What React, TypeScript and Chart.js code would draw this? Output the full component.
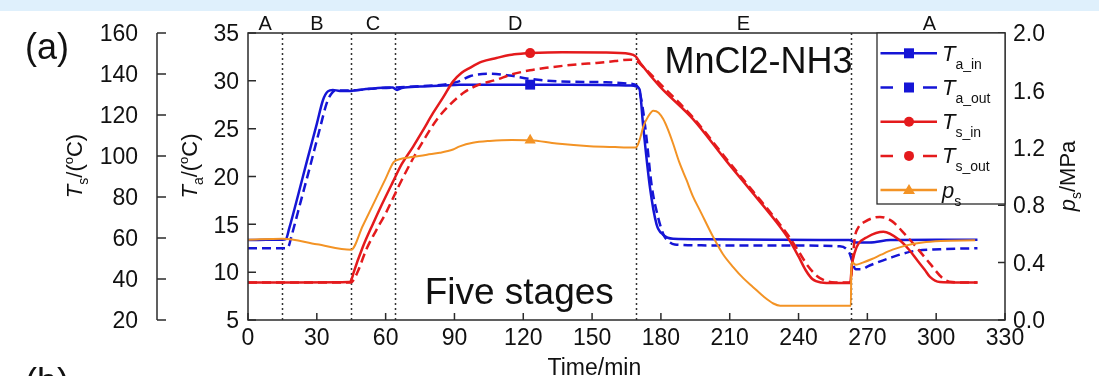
import { useEffect, useRef } from 'react';
import { Chart, registerables } from 'chart.js';

Chart.register(...registerables);

const FONT = '"Liberation Sans", Arial, Helvetica, sans-serif';
const INK = '#2b2b2b';
const BLUE = '#1515d6';
const RED = '#e41a1c';
const ORANGE = '#f39325';

// ---- Time axis ----
const xTicks = [0, 30, 60, 90, 120, 150, 180, 210, 240, 270, 300, 330];
const taTicks = [5, 10, 15, 20, 25, 30, 35];
const tsTicks = [20, 40, 60, 80, 100, 120, 140, 160];
const psTicks = [0, 0.4, 0.8, 1.2, 1.6, 2.0];

// ---- Stage boundaries (min) and labels ----
const stageBounds = [15, 45, 64, 169, 263];
const stageLabels = ['A', 'B', 'C', 'D', 'E', 'A'];
const stageCenters = [7.5, 30, 54.5, 116.5, 216, 297];

// time at which the series markers sit
const markerTime = 123;

// ---- T_a_in (°C) ----
const taInTime = [0, 8, 15, 16.5, 18, 22, 26, 30, 32.7, 34.8, 37, 40, 45, 50, 55, 60, 63, 65, 67, 75, 85, 92, 105, 123, 140, 160, 167, 169.4, 170.7, 172.3, 175.2, 178.1, 181, 183, 185.3, 200, 230, 262, 265, 271, 280, 300, 318];
const taInVals = [13.35, 13.4, 13.4, 13.45, 14.6, 18.2, 21.9, 25.5, 28.0, 28.9, 29.05, 28.95, 28.95, 29.1, 29.2, 29.3, 29.3, 29.05, 29.25, 29.4, 29.5, 29.6, 29.6, 29.6, 29.6, 29.55, 29.5, 29.4, 29.1, 25.2, 18.9, 15.0, 13.9, 13.6, 13.5, 13.45, 13.4, 13.35, 13.1, 13.1, 13.35, 13.4, 13.4];

// ---- T_a_out (°C) ----
const taOutTime = [0, 16.5, 17.5, 19, 23, 27, 31, 34.5, 36.5, 38, 45, 55, 64, 75, 85, 92, 97, 105, 114, 123, 134.5, 156, 166.5, 169.5, 171.5, 173.5, 176, 178.5, 181, 183, 186, 200, 230, 258, 262, 265, 267, 271, 280, 290, 301.6, 318];
const taOutVals = [12.5, 12.5, 12.6, 13.8, 17.4, 21.0, 24.7, 27.8, 28.7, 29.0, 29.0, 29.2, 29.3, 29.45, 29.6, 29.95, 30.5, 30.75, 30.55, 30.2, 29.95, 29.85, 29.7, 29.5, 28.0, 24.5, 19.0, 16.0, 14.0, 13.3, 12.9, 12.8, 12.8, 12.7, 12.1, 10.3, 10.3, 10.7, 11.5, 12.2, 12.4, 12.5];

// ---- T_s_in (°C) ----
const tsInTime = [0, 20, 44, 44.5, 45.5, 46, 50, 54.5, 58, 63, 67, 72, 76, 80.7, 85, 89.4, 93, 96.7, 102, 108.3, 114, 120, 123, 137, 155, 166.5, 169, 171, 179.5, 194, 208.6, 220, 232, 236, 240, 243, 246, 250, 255, 262.5, 263.3, 264.5, 266, 270, 277, 284, 288, 291.5, 295, 297.3, 301.6, 310, 318];
const tsInVals = [38.3, 38.3, 38.5, 38.6, 41, 43, 55.5, 67, 75.5, 87, 96, 104.6, 112, 121, 128.5, 136.4, 140.5, 143, 146, 147.8, 149.3, 150, 150.2, 150.6, 150.5, 149.8, 148.6, 145.4, 134, 118, 97.5, 82, 65.4, 59, 51, 44.5, 40, 38.3, 38, 38, 47, 53, 57, 60.5, 63, 59, 54.5, 49.5, 44.5, 41, 38.5, 38.3, 38.3];

// ---- T_s_out (°C) ----
const tsOutTime = [0, 20, 45, 46, 48, 51.6, 56, 60, 66, 72, 77, 82.2, 88, 93.8, 100, 108.3, 115, 122.9, 130, 137.4, 145, 151.9, 160, 166.5, 169, 172, 180, 194, 208.6, 220, 232, 236, 240, 244, 248, 252, 256, 262.5, 263.5, 264.5, 266, 269, 275.5, 281, 285, 290, 297.3, 303, 307, 312, 318];
const tsOutVals = [38.3, 38.3, 38.3, 39.5, 44, 54.5, 64, 72, 86, 98.9, 108.5, 117.6, 125, 130.7, 134.5, 137.2, 139.8, 141.8, 143.0, 144, 144.8, 145.4, 146.3, 147, 146.5, 143.8, 134.8, 118.8, 98.5, 83, 66.5, 60.5, 53.5, 46.5, 41.5, 39, 38.3, 38.3, 48, 60, 65, 68, 70.3, 68, 63.5, 57.3, 47.5, 40.2, 38.5, 38.3, 38.3];

// ---- p_s (MPa) ----
const psTime = [0, 15, 30, 45, 50, 55, 60, 63.5, 66, 72, 78, 83.6, 89.4, 92.3, 98, 105.4, 115, 123, 134.5, 149, 160, 168.6, 169.4, 171, 172.3, 174.5, 176.7, 179, 181, 183, 185.3, 188, 191.2, 194, 197, 202.8, 207, 211.5, 216, 220.2, 225, 229, 232, 245, 262.8, 263, 263.5, 265, 268, 272, 276, 281, 287, 294, 302, 317];
const psVals = [0.56, 0.567, 0.528, 0.49, 0.655, 0.82, 0.985, 1.10, 1.12, 1.137, 1.152, 1.165, 1.188, 1.21, 1.235, 1.248, 1.255, 1.253, 1.23, 1.211, 1.205, 1.202, 1.206, 1.27, 1.346, 1.42, 1.458, 1.445, 1.40, 1.33, 1.23, 1.10, 0.974, 0.86, 0.764, 0.578, 0.46, 0.369, 0.29, 0.229, 0.16, 0.115, 0.10, 0.10, 0.10, 0.36, 0.40, 0.385, 0.40, 0.425, 0.455, 0.49, 0.52, 0.54, 0.55, 0.555];

const toPoints = (t: number[], v: number[]) => t.map((x, i) => ({ x, y: v[i] }));

type Seg = { t: string; size: number; italic?: boolean; dy?: number };

function segFont(s: Seg) {
  return `${s.italic ? 'italic ' : ''}${s.size}px ${FONT}`;
}

function drawRich(ctx: CanvasRenderingContext2D, segs: Seg[], x: number, y: number, align: 'left' | 'center', angle = 0) {
  ctx.save();
  ctx.translate(x, y);
  ctx.rotate(angle);
  ctx.textAlign = 'left';
  ctx.textBaseline = 'alphabetic';
  let total = 0;
  for (const s of segs) {
    ctx.font = segFont(s);
    total += ctx.measureText(s.t).width;
  }
  let cx = align === 'center' ? -total / 2 : 0;
  for (const s of segs) {
    ctx.font = segFont(s);
    ctx.fillText(s.t, cx, s.dy || 0);
    cx += ctx.measureText(s.t).width;
  }
  ctx.restore();
}

function drawMarker(ctx: CanvasRenderingContext2D, style: string, x: number, y: number, color: string) {
  ctx.save();
  ctx.fillStyle = color;
  ctx.beginPath();
  if (style === 'rect') {
    ctx.rect(x - 5, y - 5, 10, 10);
  } else if (style === 'circle') {
    ctx.arc(x, y, 5, 0, Math.PI * 2);
  } else {
    ctx.moveTo(x, y - 6);
    ctx.lineTo(x + 6, y + 4);
    ctx.lineTo(x - 6, y + 4);
    ctx.closePath();
  }
  ctx.fill();
  ctx.restore();
}

const legendItems = [
  { color: BLUE, dashed: false, marker: 'rect', main: 'T', sub: 'a_in' },
  { color: BLUE, dashed: true, marker: 'rect', main: 'T', sub: 'a_out' },
  { color: RED, dashed: false, marker: 'circle', main: 'T', sub: 's_in' },
  { color: RED, dashed: true, marker: 'circle', main: 'T', sub: 's_out' },
  { color: ORANGE, dashed: false, marker: 'triangle', main: 'p', sub: 's' },
];

const decorPlugin = {
  id: 'figureDecor',
  beforeDraw(chart: any) {
    const ctx: CanvasRenderingContext2D = chart.ctx;
    ctx.save();
    ctx.fillStyle = '#dff0fc';
    ctx.fillRect(0, 0, chart.width, 11);
    ctx.restore();
  },
  beforeDatasetsDraw(chart: any) {
    const ctx: CanvasRenderingContext2D = chart.ctx;
    const { top, bottom } = chart.chartArea;
    const xs = chart.scales.x;
    ctx.save();
    ctx.strokeStyle = '#333';
    ctx.lineWidth = 1.5;
    ctx.setLineDash([2, 3]);
    for (const b of stageBounds) {
      const x = Math.round(xs.getPixelForValue(b)) + 0.5;
      ctx.beginPath();
      ctx.moveTo(x, top);
      ctx.lineTo(x, bottom);
      ctx.stroke();
    }
    ctx.restore();
  },
  afterDatasetsDraw(chart: any) {
    const ctx: CanvasRenderingContext2D = chart.ctx;
    const { left, right, top, bottom } = chart.chartArea;
    const xs = chart.scales.x;
    const yTa = chart.scales.yTa;
    const yTs = chart.scales.yTs;
    const yP = chart.scales.yP;
    const tsX = left - 91;

    ctx.save();
    ctx.strokeStyle = INK;
    ctx.fillStyle = '#111';
    ctx.lineWidth = 1.5;
    ctx.setLineDash([]);

    // frame
    ctx.strokeRect(left, top, right - left, bottom - top);

    // Ts axis line
    ctx.beginPath();
    ctx.moveTo(tsX, yTs.getPixelForValue(160));
    ctx.lineTo(tsX, yTs.getPixelForValue(20));
    ctx.stroke();

    // inward ticks
    ctx.beginPath();
    for (const v of xTicks) {
      const x = xs.getPixelForValue(v);
      ctx.moveTo(x, bottom);
      ctx.lineTo(x, bottom - 7);
    }
    for (const v of taTicks) {
      const y = yTa.getPixelForValue(v);
      ctx.moveTo(left, y);
      ctx.lineTo(left + 8, y);
    }
    for (const v of psTicks) {
      const y = yP.getPixelForValue(v);
      ctx.moveTo(right, y);
      ctx.lineTo(right - 7, y);
    }
    for (const v of tsTicks) {
      const y = yTs.getPixelForValue(v);
      ctx.moveTo(tsX, y);
      ctx.lineTo(tsX + 9, y);
    }
    ctx.stroke();

    // tick labels
    ctx.font = `23px ${FONT}`;
    ctx.textBaseline = 'alphabetic';
    ctx.textAlign = 'center';
    for (const v of xTicks) ctx.fillText(String(v), xs.getPixelForValue(v), bottom + 25);
    ctx.textAlign = 'right';
    for (const v of taTicks) ctx.fillText(String(v), left - 9, yTa.getPixelForValue(v) + 8.2);
    for (const v of tsTicks) ctx.fillText(String(v), tsX - 19, yTs.getPixelForValue(v) + 8.2);
    ctx.textAlign = 'left';
    for (const v of psTicks) ctx.fillText(v.toFixed(1), right + 8, yP.getPixelForValue(v) + 8.2);

    // axis titles
    drawRich(ctx, [
      { t: 'T', size: 22, italic: true },
      { t: 's', size: 14, dy: 6 },
      { t: '/(', size: 22 },
      { t: 'o', size: 13, dy: -9 },
      { t: 'C)', size: 22 },
    ], tsX - 75, top + 133, 'center', -Math.PI / 2);
    drawRich(ctx, [
      { t: 'T', size: 22, italic: true },
      { t: 'a', size: 14, dy: 6 },
      { t: '/(', size: 22 },
      { t: 'o', size: 13, dy: -9 },
      { t: 'C)', size: 22 },
    ], left - 51, top + 133, 'center', -Math.PI / 2);
    drawRich(ctx, [
      { t: 'p', size: 22, italic: true },
      { t: 's', size: 14, dy: 6 },
      { t: '/MPa', size: 22 },
    ], right + 70, top + 143, 'center', -Math.PI / 2);
    drawRich(ctx, [{ t: 'Time/min', size: 23 }], xs.getPixelForValue(151), bottom + 55, 'center');

    // stage letters
    ctx.font = `20px ${FONT}`;
    ctx.textAlign = 'center';
    stageLabels.forEach((s, i) => ctx.fillText(s, xs.getPixelForValue(stageCenters[i]), top - 3.5));

    // annotations
    ctx.textAlign = 'left';
    ctx.font = `36px ${FONT}`;
    ctx.fillText('MnCl2-NH3', xs.getPixelForValue(181.6), yTa.getPixelForValue(30.87));
    ctx.font = `37px ${FONT}`;
    ctx.fillText('Five stages', xs.getPixelForValue(77), yTa.getPixelForValue(6.7));
    ctx.font = `36px ${FONT}`;
    ctx.fillText('(a)', 25, 59);
    ctx.fillText('(b)', 25, 394);

    // legend
    const lx = right - 128;
    const lb = top + 171;
    ctx.fillStyle = '#fff';
    ctx.fillRect(lx, top, right - lx, lb - top);
    ctx.strokeStyle = INK;
    ctx.lineWidth = 1.3;
    ctx.strokeRect(lx, top, right - lx, lb - top);
    legendItems.forEach((it, i) => {
      const y = top + 20.3 + i * 34.2;
      ctx.strokeStyle = it.color;
      ctx.lineWidth = 2.5;
      ctx.beginPath();
      if (it.dashed) {
        ctx.moveTo(lx + 3.5, y);
        ctx.lineTo(lx + 16, y);
        ctx.moveTo(lx + 46, y);
        ctx.lineTo(lx + 60, y);
      } else {
        ctx.moveTo(lx + 3.5, y);
        ctx.lineTo(lx + 60, y);
      }
      ctx.stroke();
      drawMarker(ctx, it.marker, lx + 32, y, it.color);
      ctx.fillStyle = '#111';
      drawRich(ctx, [
        { t: it.main, size: 22, italic: true },
        { t: it.sub, size: 14, dy: 8 },
      ], lx + 65, y + 7.4, 'left');
    });

    ctx.restore();
  },
};

export default function App() {
  const ref = useRef<HTMLCanvasElement>(null);

  useEffect(() => {
    const canvas = ref.current;
    if (!canvas) return;
    const markerRadius = (r: number) => (c: any) => (c.raw && c.raw.x === markerTime ? r : 0);
    const chart = new Chart(canvas, {
      type: 'line',
      data: {
        datasets: [
          {
            label: 'Ta_out',
            data: toPoints(taOutTime, taOutVals),
            yAxisID: 'yTa',
            borderColor: BLUE,
            backgroundColor: BLUE,
            borderWidth: 2.5,
            borderDash: [9, 5],
            pointRadius: 0,
            order: 5,
          },
          {
            label: 'Ta_in',
            data: toPoints(taInTime, taInVals),
            yAxisID: 'yTa',
            borderColor: BLUE,
            backgroundColor: BLUE,
            borderWidth: 2.5,
            pointStyle: 'rect',
            pointRadius: markerRadius(7),
            pointBorderWidth: 0,
            order: 4,
          },
          {
            label: 'Ts_out',
            data: toPoints(tsOutTime, tsOutVals),
            yAxisID: 'yTs',
            borderColor: RED,
            backgroundColor: RED,
            borderWidth: 2.5,
            borderDash: [9, 5],
            pointRadius: 0,
            order: 3,
          },
          {
            label: 'Ts_in',
            data: toPoints(tsInTime, tsInVals),
            yAxisID: 'yTs',
            borderColor: RED,
            backgroundColor: RED,
            borderWidth: 2.5,
            pointStyle: 'circle',
            pointRadius: markerRadius(5),
            pointBorderWidth: 0,
            order: 2,
          },
          {
            label: 'ps',
            data: toPoints(psTime, psVals),
            yAxisID: 'yP',
            borderColor: ORANGE,
            backgroundColor: ORANGE,
            borderWidth: 2,
            pointStyle: 'triangle',
            pointRadius: markerRadius(6.5),
            pointBorderWidth: 0,
            order: 1,
          },
        ],
      },
      options: {
        responsive: false,
        animation: false,
        devicePixelRatio: 1,
        events: [],
        layout: { padding: { left: 248, right: 94, top: 33, bottom: 56 } },
        elements: { line: { cubicInterpolationMode: 'monotone' } },
        plugins: { legend: { display: false }, tooltip: { enabled: false } },
        scales: {
          x: { type: 'linear', min: 0, max: 330, display: false },
          yTa: { type: 'linear', axis: 'y', position: 'left', min: 5, max: 35, display: false },
          yTs: { type: 'linear', axis: 'y', position: 'left', min: 20, max: 160, display: false },
          yP: { type: 'linear', axis: 'y', position: 'right', min: 0, max: 2, display: false },
        },
      },
      plugins: [decorPlugin],
    } as any);
    return () => chart.destroy();
  }, []);

  return (
    <div style={{ position: 'fixed', left: 0, top: 0, width: 1099, height: 376, background: '#fff', overflow: 'hidden' }}>
      <canvas ref={ref} width={1099} height={376} style={{ display: 'block', width: 1099, height: 376 }} />
    </div>
  );
}
